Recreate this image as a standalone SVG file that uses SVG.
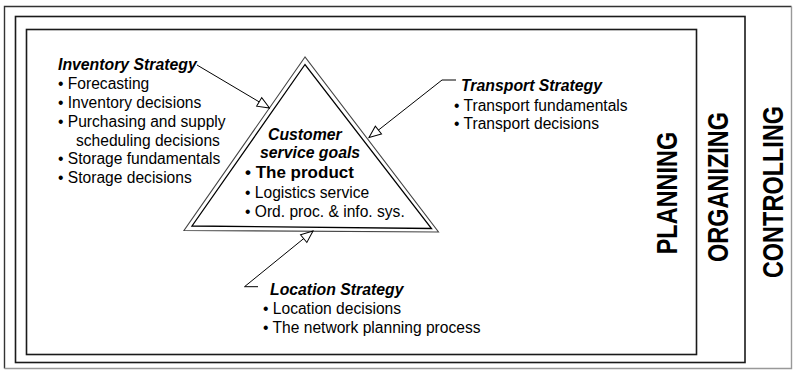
<svg xmlns="http://www.w3.org/2000/svg" width="793" height="370" viewBox="0 0 793 370">
  <style>
    text { font-family: "Liberation Sans", Arial, sans-serif; fill: #000; }
    .head { font-size: 15.8px; font-weight: bold; font-style: italic; }
    .item { font-size: 15.6px; }
    .big  { font-size: 17px; font-weight: bold; }
    .band { font-size: 23.5px; font-weight: bold; text-anchor: middle; }
    .frame { fill: none; stroke: #1a1a1a; stroke-width: 1.6; }
    .conn { fill: none; stroke: #000; stroke-width: 1; }
  </style>
  <defs>
    <marker id="hollow" viewBox="-14 -7 15 14" markerWidth="15" markerHeight="14" refX="0" refY="0" orient="auto" markerUnits="userSpaceOnUse">
      <path d="M0,0 L-12,-5 L-12,5 Z" fill="#fff" stroke="#000" stroke-width="1"/>
    </marker>
  </defs>
  <rect width="793" height="370" fill="#fff"/>

  <!-- nested management frames -->
  <g id="frame-controlling">
    <path d="M4.5,368.5 V6.5 H791.5" fill="none" stroke="#333" stroke-width="1.4"/>
    <path d="M791.5,6.5 V368.5 H4.5" fill="none" stroke="#999" stroke-width="1.4"/>
    <text class="band" transform="translate(783,192) rotate(-90) scale(1,1.29)">CONTROLLING</text>
  </g>
  <g id="frame-organizing">
    <rect class="frame" x="15.5" y="16.5" width="729.5" height="346"/>
    <text class="band" transform="translate(728,187) rotate(-90) scale(1,1.29)">ORGANIZING</text>
  </g>
  <g id="frame-planning">
    <rect class="frame" x="26.5" y="29.5" width="670" height="325"/>
    <text class="band" transform="translate(677,193) rotate(-90) scale(1,1.29)">PLANNING</text>
  </g>

  <!-- central triangle -->
  <g id="customer-service">
    <polygon points="305,57 184,230.5 438.5,232" fill="#fff" stroke="#444" stroke-width="1.1"/>
    <polygon points="305,64.5 192,226 431.5,228.5" fill="#fff" stroke="#000" stroke-width="1.3"/>
    <text class="head" x="268" y="140">Customer</text>
    <text class="head" x="260" y="158.3">service goals</text>
    <text class="big" x="245" y="178.3">• The product</text>
    <text class="item" x="245" y="197.7">• Logistics service</text>
    <text class="item" x="245" y="216.7">• Ord. proc. &amp; info. sys.</text>
  </g>

  <g id="inventory-strategy">
    <text class="head" x="58" y="70">Inventory Strategy</text>
    <text class="item" x="58" y="89.3">• Forecasting</text>
    <text class="item" x="58" y="108.3">• Inventory decisions</text>
    <text class="item" x="58" y="126.7">• Purchasing and supply</text>
    <text class="item" x="76" y="145.7">scheduling decisions</text>
    <text class="item" x="58" y="164.3">• Storage fundamentals</text>
    <text class="item" x="58" y="183.3">• Storage decisions</text>
  </g>

  <g id="transport-strategy">
    <text class="head" x="461" y="90.7">Transport Strategy</text>
    <text class="item" x="454" y="110.7">• Transport fundamentals</text>
    <text class="item" x="454" y="129.3">• Transport decisions</text>
  </g>

  <g id="location-strategy">
    <text class="head" x="270" y="295">Location Strategy</text>
    <text class="item" x="263" y="314">• Location decisions</text>
    <text class="item" x="263" y="333.3">• The network planning process</text>
  </g>

  <!-- strategy connectors into the triangle -->
  <g id="connectors">
    <path class="conn" d="M197,65 L269.5,108" marker-end="url(#hollow)"/>
    <path class="conn" d="M456,80 H442 L369,137.5" marker-end="url(#hollow)"/>
    <path class="conn" d="M258,286.7 H244.5 L313,231" marker-end="url(#hollow)"/>
  </g>
</svg>
